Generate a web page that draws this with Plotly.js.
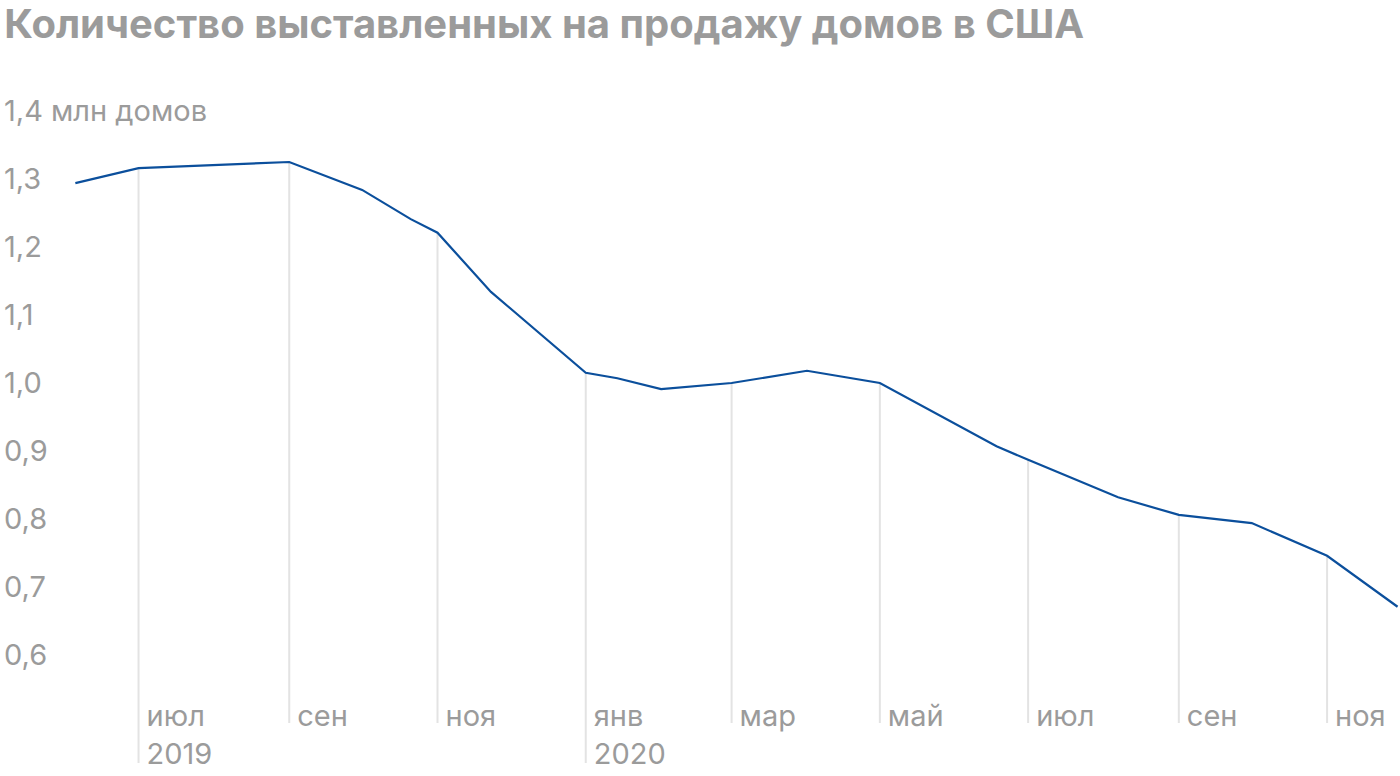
<!DOCTYPE html>
<html>
<head>
<meta charset="utf-8">
<script src="https://cdn.plot.ly/plotly-3.0.1.min.js"></script>
<style>
  html, body { margin: 0; padding: 0; background: #ffffff; }
  #chart { width: 1400px; height: 776px; }
</style>
</head>
<body>
<div id="chart"></div>
<script>
// ---- data ----
var dates = [
  '2019-06-05', '2019-07-01', '2019-09-01', '2019-10-01', '2019-10-21',
  '2019-11-01', '2019-11-23', '2020-01-01', '2020-01-14', '2020-02-01',
  '2020-03-01', '2020-04-01', '2020-05-01', '2020-06-18', '2020-07-01',
  '2020-08-07', '2020-09-01', '2020-10-01', '2020-11-01', '2020-11-30'
];
var listings = [
  1.294, 1.316, 1.325, 1.284, 1.241,
  1.221, 1.134, 1.015, 1.007, 0.991,
  1.000, 1.018, 1.000, 0.907, 0.887,
  0.832, 0.806, 0.794, 0.746, 0.671
];
var tickDates = ['2019-07-01', '2019-09-01', '2019-11-01', '2020-01-01', '2020-03-01',
                 '2020-05-01', '2020-07-01', '2020-09-01', '2020-11-01'];
var tickTexts = ['июл<br>2019', 'сен', 'ноя', 'янв<br>2020', 'мар', 'май', 'июл', 'сен', 'ноя'];
var yTickVals = [0.6, 0.7, 0.8, 0.9, 1.0, 1.1, 1.2, 1.3, 1.4];
var yTickTexts = ['0,6', '0,7', '0,8', '0,9', '1,0', '1,1', '1,2', '1,3', '1,4 млн домов'];
var titleText = 'Количество выставленных на продажу домов в США';

// ---- layout geometry ----
var W = 1400, H = 776;
var mT = 90, mB = 81;
var plotH = H - mT - mB;
var yRange = [0.5412, 1.4309];
var xRange = ['2019-05-05', '2020-12-01'];

function paperY(v) { return (v - yRange[0]) / (yRange[1] - yRange[0]); }
var shortEnd = -(723 - (H - mB)) / plotH;
var longEnd = -(763 - (H - mB)) / plotH;

var shapes = tickDates.map(function (d, i) {
  var idx = dates.indexOf(d);
  var v = listings[idx];
  var hasYear = tickTexts[i].indexOf('<br>') >= 0;
  return {
    type: 'line', xref: 'x', yref: 'paper',
    x0: d, x1: d, y0: paperY(v), y1: hasYear ? longEnd : shortEnd,
    line: { color: '#e3e3e3', width: 2 }, layer: 'below'
  };
});

var trace = {
  x: dates, y: listings, type: 'scatter', mode: 'lines',
  line: { color: '#0b4f9c', width: 2.2 },
  hoverinfo: 'skip'
};

var FONT = 'Inter, Roboto, sans-serif';

var layout = {
  width: W, height: H,
  margin: { l: 0, r: 0, t: mT, b: mB, pad: 0 },
  paper_bgcolor: '#ffffff', plot_bgcolor: '#ffffff',
  showlegend: false,
  title: {
    text: '<b>' + titleText + '</b>',
    x: 0.003, xref: 'paper', xanchor: 'left',
    y: 1 - 24 / H, yref: 'container', yanchor: 'middle',
    font: { family: FONT, size: 40, color: '#9b9b9b' }
  },
  xaxis: {
    type: 'date', range: xRange,
    showgrid: false, zeroline: false, showline: false,
    tickmode: 'array', tickvals: tickDates, ticktext: tickTexts,
    ticks: '', ticklabelposition: 'outside right', ticklabelshift: 8, ticklabelstandoff: 1,
    tickfont: { family: FONT, size: 29, color: '#9b9b9b' }
  },
  yaxis: {
    range: yRange,
    anchor: 'free', position: 0, side: 'right',
    showgrid: false, zeroline: false, showline: false,
    tickmode: 'array', tickvals: yTickVals, ticktext: yTickTexts,
    ticks: '', ticklabelposition: 'outside', ticklabelstandoff: 3,
    tickfont: { family: FONT, size: 29, color: '#9b9b9b' }
  },
  shapes: shapes
};

Plotly.newPlot('chart', [trace], layout, { displayModeBar: false, staticPlot: true });
</script>
</body>
</html>
